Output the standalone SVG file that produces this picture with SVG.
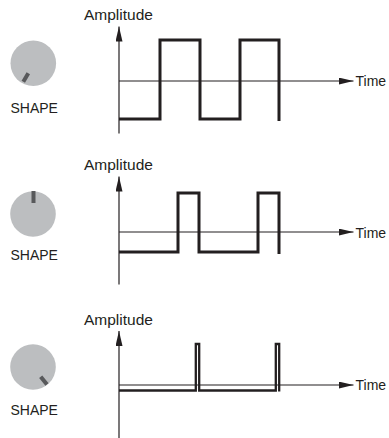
<svg xmlns="http://www.w3.org/2000/svg" width="389" height="438" viewBox="0 0 389 438">
  <defs>
    <marker id="arrow" markerUnits="userSpaceOnUse" markerWidth="15" markerHeight="7" refX="15" refY="3.5" orient="auto">
      <path d="M0,0 L15,3.5 L0,7 Z" fill="#231f20"/>
    </marker>
  </defs>
  <style>
    .axis { stroke: #231f20; stroke-width: 1.2; fill: none; }
    .arrowed { marker-end: url(#arrow); }
    .wave { stroke: #231f20; stroke-width: 3; fill: none; stroke-linejoin: miter; stroke-linecap: butt; }
    .thin { stroke-width: 2.3; }
    .knob { fill: #bcbec0; }
    .ind { stroke: #58595b; stroke-width: 4; stroke-linecap: butt; }
    .lbl { font-family: "Liberation Sans", Arial, sans-serif; fill: #231f20; }
    .amp { font-size: 15.5px; }
    .small { font-size: 14px; }
  </style>

  <g id="knob-1">
    <circle class="knob" cx="33.3" cy="63.3" r="22.8"/>
    <line class="ind" x1="28.3" y1="73.3" x2="23.3" y2="81.8"/>
    <text class="lbl small" x="10.5" y="113.3">SHAPE</text>
  </g>
  <g id="knob-2">
    <circle class="knob" cx="33" cy="214" r="22.8"/>
    <line class="ind" x1="33.5" y1="191" x2="33.5" y2="203"/>
    <text class="lbl small" x="10.5" y="260">SHAPE</text>
  </g>
  <g id="knob-3">
    <circle class="knob" cx="33" cy="367" r="22.8"/>
    <line class="ind" x1="40.7" y1="376.7" x2="47" y2="384.6"/>
    <text class="lbl small" x="10.5" y="415">SHAPE</text>
  </g>

  <g id="labels">
    <text class="lbl amp" x="84" y="19.5">Amplitude</text>
    <text class="lbl small" x="355.5" y="86">Time</text>
    <text class="lbl amp" x="84" y="170">Amplitude</text>
    <text class="lbl small" x="355.5" y="237.5">Time</text>
    <text class="lbl amp" x="84" y="325">Amplitude</text>
    <text class="lbl small" x="355.5" y="390">Time</text>
  </g>

  <g id="waves">
    <path id="wave-1" class="wave" d="M119,119 H160 V40 H200 V119 H240 V40 H279 V121"/>
    <path id="wave-2" class="wave" d="M119,252 H178 V193 H199 V252 H258 V193 H279 V254"/>
    <path id="wave-3" class="wave thin" d="M119,390.5 H195.8 V344 H199.2 V390.5 H275.8 V344 H279.2 V391.5"/>
  </g>

  <g id="connectors">
    <line class="axis arrowed" x1="119" y1="133.5" x2="119" y2="26.5"/>
    <line class="axis arrowed" x1="119" y1="81" x2="353.5" y2="81"/>
    <line class="axis arrowed" x1="119" y1="284.5" x2="119" y2="176.5"/>
    <line class="axis arrowed" x1="119" y1="232" x2="353.5" y2="232"/>
    <line class="axis arrowed" x1="119" y1="438" x2="119" y2="331"/>
    <line class="axis arrowed" x1="119" y1="385" x2="353.5" y2="385"/>
  </g>
</svg>
